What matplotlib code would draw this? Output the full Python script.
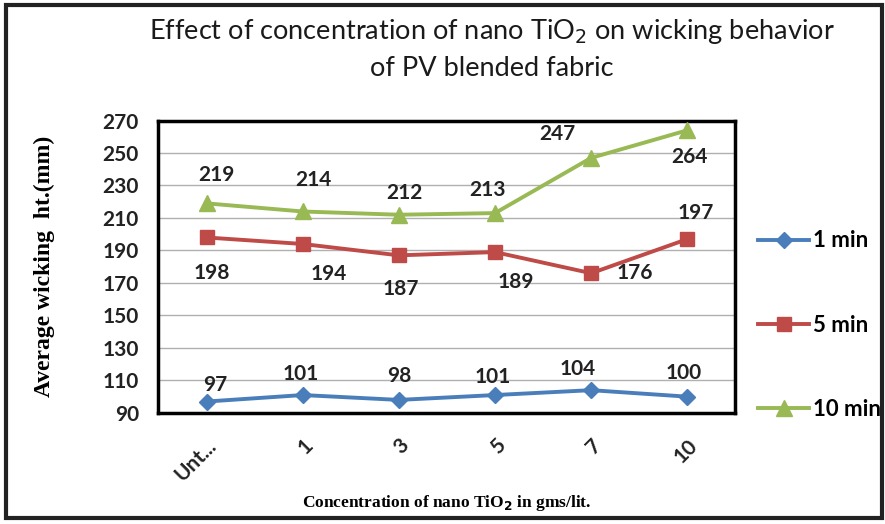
import numpy as np
import matplotlib
matplotlib.use('Agg')
import matplotlib.pyplot as plt
from matplotlib.patches import Rectangle

categories = ['Unt...', '1', '3', '5', '7', '10']
one_min = [97, 101, 98, 101, 104, 100]
five_min = [198, 194, 187, 189, 176, 197]
ten_min = [219, 214, 212, 213, 247, 264]
y_ticks = list(range(90, 271, 20))

# where Excel put each data label, pixels from the point (dx, dy up)
off_1 = [(9, 17), (-2, 21), (0, 24), (-2, 18), (-14, 21), (-4, 24)]
off_5 = [(5, -36), (26, -30), (2, -34), (21, -30), (44, 0), (8, 26)]
off_10 = [(10, 28), (11, 31), (6, 22), (-8, 23), (-34, 24), (2, -27)]

fig = plt.figure(figsize=(8.85, 5.24), dpi=100)
ax = fig.add_axes([0.179, 0.212, 0.652, 0.558])

x = np.arange(len(categories))
ax.plot(x, one_min, color='#4a7ebb', lw=2.8, marker='D', ms=8, label='1 min', zorder=3)
ax.plot(x, five_min, color='#be4b48', lw=2.8, marker='s', ms=10, label='5 min', zorder=3)
ax.plot(x, ten_min, color='#98b954', lw=2.8, marker='^', ms=11, label='10 min', zorder=3)

lab_font = dict(fontsize=15, fontweight='bold', family='Lato', color='#222222', ha='center', va='center')
for series, offs in [(one_min, off_1), (five_min, off_5), (ten_min, off_10)]:
    for i in range(len(x)):
        ax.annotate(str(series[i]), (x[i], series[i]), xytext=offs[i], textcoords='offset pixels', **lab_font)

ax.set_xlim(-0.5, len(categories) - 0.5)
ax.set_ylim(90, 270)
ax.set_yticks(y_ticks)
ax.set_xticks(x)
ax.set_xticklabels(categories, rotation=45, ha='right', rotation_mode='anchor')
ax.tick_params(axis='y', length=0, pad=14)
ax.tick_params(axis='x', length=0, pad=16)
for lbl in ax.get_yticklabels() + ax.get_xticklabels():
    lbl.set_fontsize(15)
    lbl.set_fontweight('bold')
    lbl.set_family('Lato')
    lbl.set_color('#222222')
ax.grid(axis='y', color='#b0b0b0', lw=1)
ax.set_axisbelow(True)
for s in ax.spines.values():
    s.set_linewidth(2.5)
    s.set_color('black')

ax.set_ylabel('Average wicking  ht.(mm)', fontsize=17, fontweight='bold', family='Liberation Serif', labelpad=34)
ax.set_xlabel(r'Concentration of nano TiO$_\mathbf{2}$ in gms/lit.', fontsize=12.5, fontweight='bold',
              family='Liberation Serif', labelpad=6)

fig.text(0.556, 0.94, r'Effect of concentration of nano TiO$_2$ on wicking behavior', ha='center', va='center',
         fontsize=19.5, family='Lato', color='#1a1a1a')
fig.text(0.556, 0.87, 'of PV blended fabric', ha='center', va='center', fontsize=19.5, family='Lato', color='#1a1a1a')

leg = ax.legend(loc='center left', bbox_to_anchor=(1.005, 0.30), frameon=False, labelspacing=2.85,
                handlelength=2.3, handletextpad=0.15, prop={'family': 'Lato', 'weight': 'bold', 'size': 16})

fig.patches.append(Rectangle((0.007, 0.012), 0.99, 0.978, transform=fig.transFigure, fill=False,
                             lw=3, edgecolor='#222222'))

fig.savefig('out.png', dpi=100)
